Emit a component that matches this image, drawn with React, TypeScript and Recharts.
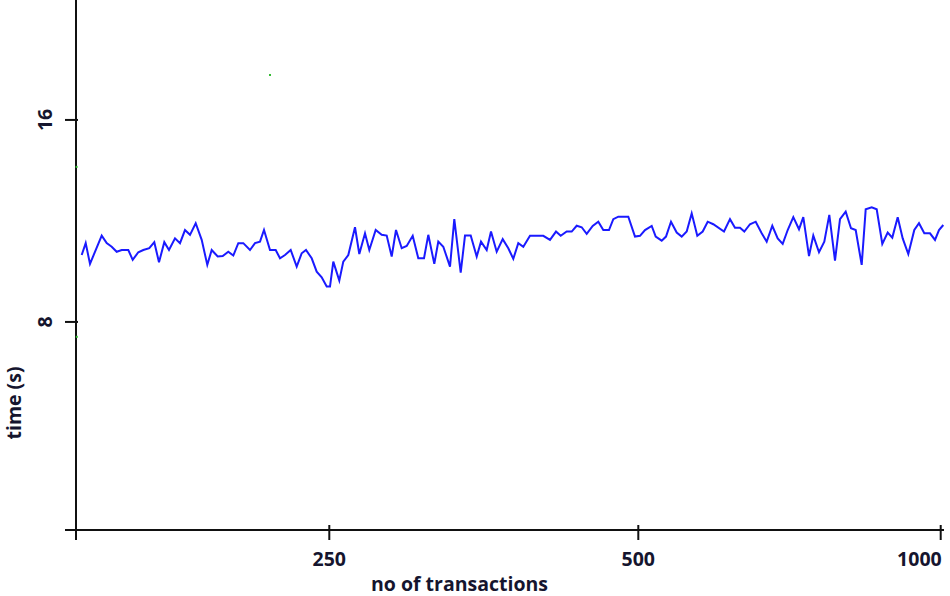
import React from 'react';
import { ComposedChart, Line, Scatter, XAxis, YAxis } from 'recharts';

// position of each sample along the x axis (axis units, 0 at the y axis)
const samplePos = [
  5.7, 9.7, 14, 25.7, 30.7, 35.7, 40.7, 45.7, 52.3, 56.7, 62.3, 67.3, 73.3, 78.3, 83, 88.3, 93, 99, 104, 109,
  114, 119.7, 125.7, 131.3, 135.7, 141.7, 146.7, 152.3, 157.3, 162.3, 167.3, 174, 179, 184, 188, 194, 199.7, 204,
  209, 214.7, 220.7, 225.7, 230, 235.7, 240.7, 245.7, 250.7, 254, 257.3, 263.3, 267.3, 272.3, 279, 283.3, 289,
  293.3, 299.7, 305.7, 310.7, 315.7, 320, 325.7, 330.7, 336.7, 342.3, 348, 352.3, 358.3, 362.3, 367.3, 374,
  378.3, 384.7, 389, 394.7, 400.7, 405, 410.7, 415, 420.7, 426.7, 432.3, 437.3, 442.3, 447.3, 454, 467.3, 474,
  480, 484.7, 490.7, 495.7, 500.7, 505.7, 510.7, 516.7, 522.3, 527.3, 533, 537.3, 542.3, 552.3, 559, 564, 569,
  575.7, 579.7, 585.7, 590, 595, 600.7, 605.7, 610.7, 615.7, 621.3, 626.7, 631.7, 637.3, 648, 654, 659, 664,
  668.3, 674, 679.7, 685.7, 690.7, 696.3, 701.7, 706.7, 711.7, 717.3, 723, 727.3, 733, 737.3, 743, 748.3, 753.3,
  759, 764, 769.7, 775, 779.7, 785.7, 789.7, 795.7, 800.7, 806.3, 811.7, 816.3, 821.7, 826.7, 832.3, 838.3, 843,
  848.3, 854, 859, 863, 867.3,
];

// time in seconds for each sample
const timeSec = [
  10.65, 11.12, 10.3, 11.42, 11.12, 10.98, 10.78, 10.85, 10.85, 10.46, 10.76, 10.85, 10.92, 11.16, 10.36, 11.16,
  10.85, 11.31, 11.12, 11.64, 11.45, 11.91, 11.25, 10.26, 10.85, 10.59, 10.61, 10.78, 10.63, 11.12, 11.12, 10.85,
  11.12, 11.18, 11.64, 10.85, 10.85, 10.52, 10.65, 10.85, 10.19, 10.72, 10.85, 10.52, 9.99, 9.77, 9.4, 9.4, 10.39,
  9.64, 10.39, 10.65, 11.75, 10.69, 11.51, 10.85, 11.64, 11.45, 11.42, 10.59, 11.64, 10.92, 11.01, 11.41, 10.52,
  10.52, 11.45, 10.3, 11.18, 10.98, 10.19, 12.07, 9.95, 11.42, 11.42, 10.59, 11.18, 10.85, 11.58, 10.78, 11.28,
  10.92, 10.5, 11.12, 10.98, 11.41, 11.41, 11.25, 11.58, 11.41, 11.58, 11.58, 11.81, 11.75, 11.49, 11.8, 11.97,
  11.64, 11.64, 12.07, 12.17, 12.17, 11.38, 11.41, 11.64, 11.8, 11.38, 11.22, 11.38, 11.97, 11.54, 11.38, 11.58,
  12.3, 11.41, 11.58, 11.97, 11.87, 11.58, 12.07, 11.73, 11.73, 11.58, 11.87, 11.97, 11.51, 11.18, 11.81, 11.31,
  11.09, 11.64, 12.15, 11.67, 12.15, 10.61, 11.42, 10.76, 11.18, 12.24, 10.43, 12.07, 12.37, 11.71, 11.64, 10.26,
  12.46, 12.54, 12.46, 11.09, 11.54, 11.34, 12.15, 11.31, 10.69, 11.64, 11.91, 11.51, 11.51, 11.25, 11.64, 11.84,
];

// stray green marker points
const markerPos = [194, 0.6, 0.8];
const markerTime = [17.78, 14.14, 7.41];

const xTickPos = [0, 253.3, 562.3, 864.7];
const xTickLabels = ['', '250', '500', '1000'];
const yTickVals = [-0.24, 8, 16];
const yTickLabels = ['', '8', '16'];

const lineData = samplePos.map((x, i) => ({ x, v: timeSec[i] }));
const markerData = markerPos.map((x, i) => ({ x, v: markerTime[i] }));

const FONT = '"Open Sans", "DejaVu Sans", sans-serif';
const TEXT = '#15152e';
const AXIS = '#111';
const FS = 19.5;
const FW = 700;

const findIdx = (arr: number[], v: number) => {
  let best = 0;
  arr.forEach((a, i) => {
    if (Math.abs(a - v) < Math.abs(arr[best] - v)) best = i;
  });
  return best;
};

const XTick = (props: any) => {
  const { x, y, payload } = props;
  const i = findIdx(xTickPos, payload.value);
  const label = xTickLabels[i];
  const last = i === xTickPos.length - 1;
  return (
    <g>
      <line x1={x} x2={x} y1={y - 5} y2={y + 10} stroke={AXIS} strokeWidth={2} />
      {label ? (
        <text
          x={last ? x + 1 : x}
          y={y + 36}
          textAnchor={last ? 'end' : 'middle'}
          fontFamily={FONT}
          fontWeight={FW}
          fontSize={FS}
          fill={TEXT}
        >
          {label}
        </text>
      ) : null}
    </g>
  );
};

const YTick = (props: any) => {
  const { x, y, payload } = props;
  const i = findIdx(yTickVals, payload.value);
  const label = yTickLabels[i];
  const tx = x - 24;
  return (
    <g>
      <line x1={x - 11} x2={x + 2} y1={y} y2={y} stroke={AXIS} strokeWidth={2} />
      {label ? (
        <text
          x={tx}
          y={y}
          transform={`rotate(-90 ${tx} ${y})`}
          textAnchor="middle"
          fontFamily={FONT}
          fontWeight={FW}
          fontSize={FS}
          fill={TEXT}
        >
          {label}
        </text>
      ) : null}
    </g>
  );
};

const xLabel = (props: any) => {
  const vb = props.viewBox || { x: 76, y: 530 };
  return (
    <text
      x={vb.x + 383.5}
      y={vb.y + 61}
      textAnchor="middle"
      fontFamily={FONT}
      fontWeight={FW}
      fontSize={FS}
      fill={TEXT}
    >
      no of transactions
    </text>
  );
};

const yLabel = (props: any) => {
  const vb = props.viewBox || { x: 0, y: 0 };
  const tx = vb.x + 21;
  const ty = 403;
  return (
    <text
      x={tx}
      y={ty}
      transform={`rotate(-90 ${tx} ${ty})`}
      textAnchor="middle"
      fontFamily={FONT}
      fontWeight={FW}
      fontSize={FS}
      fill={TEXT}
    >
      time (s)
    </text>
  );
};

const GreenDot = (p: any) => <rect x={p.cx - 1} y={p.cy - 1} width={2} height={2} fill="#33bb33" />;

export default function App() {
  return (
    <div style={{ position: 'absolute', left: 0, top: 0, width: 950, height: 596, background: '#fff' }}>
      <ComposedChart width={950} height={596} margin={{ top: 0, right: 6, bottom: 0, left: 0 }}>
        <XAxis
          type="number"
          dataKey="x"
          domain={[0, 868]}
          ticks={xTickPos}
          interval={0}
          height={66}
          tickSize={0}
          tickMargin={0}
          tickLine={false}
          axisLine={{ stroke: AXIS, strokeWidth: 2 }}
          tick={<XTick />}
          label={xLabel}
        />
        <YAxis
          type="number"
          dataKey="v"
          domain={[-0.24, 20.75]}
          ticks={yTickVals}
          interval={0}
          width={76}
          tickSize={0}
          tickMargin={0}
          tickLine={false}
          axisLine={{ stroke: AXIS, strokeWidth: 2 }}
          tick={<YTick />}
          label={yLabel}
          allowDataOverflow
        />
        <Line
          data={lineData}
          dataKey="v"
          type="linear"
          stroke="#1a1aff"
          strokeWidth={2}
          dot={false}
          activeDot={false}
          isAnimationActive={false}
        />
        <Scatter data={markerData} dataKey="v" fill="#33bb33" shape={GreenDot} isAnimationActive={false} />
      </ComposedChart>
    </div>
  );
}
